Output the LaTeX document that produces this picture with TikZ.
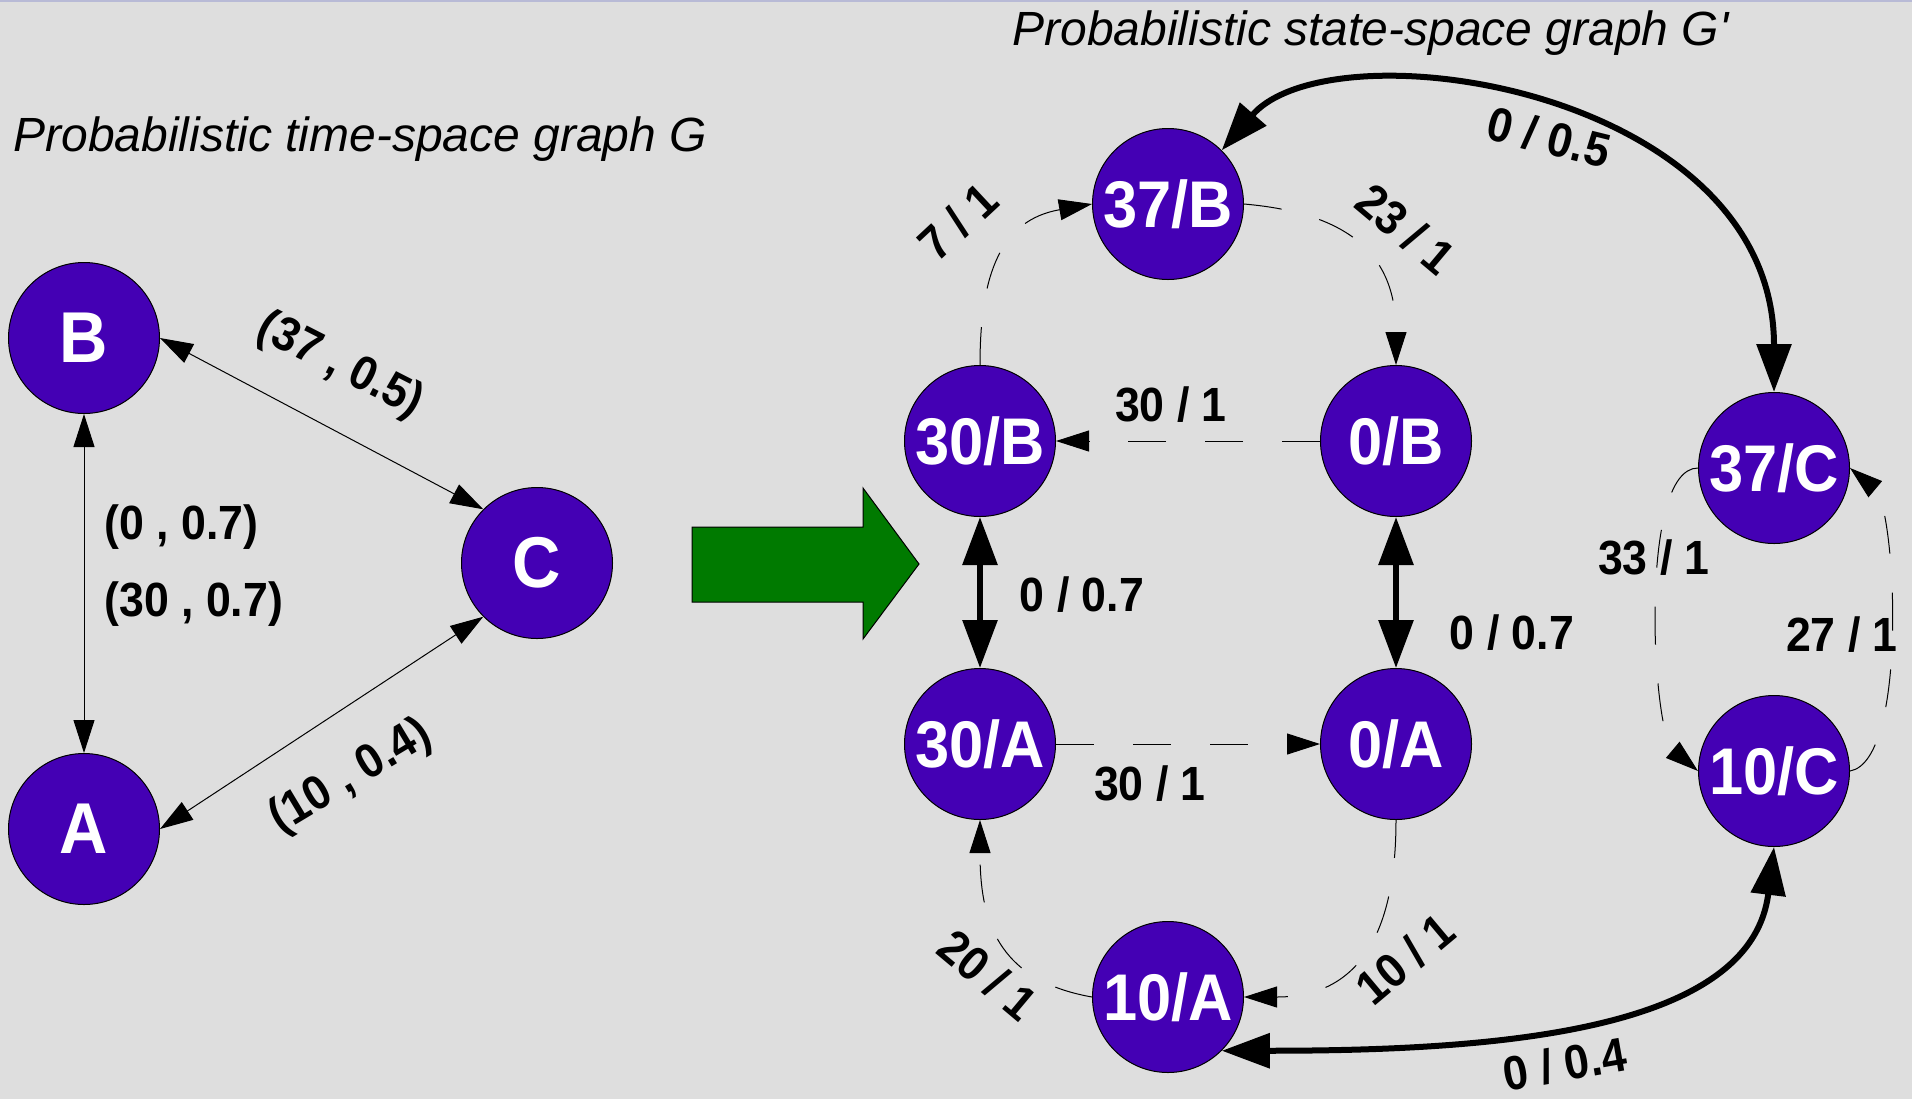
\documentclass[tikz,border=0pt]{standalone}
\usepackage{fontspec}
\setmainfont{Liberation Sans}
\newfontfamily\lblfont[FakeStretch=0.93]{Liberation Sans}
\usetikzlibrary{arrows.meta}
\definecolor{statefill}{RGB}{68,0,180}
\definecolor{arrowgreen}{RGB}{0,122,0}
\definecolor{paper}{RGB}{222,222,222}
\definecolor{topline}{RGB}{184,186,214}

\begin{document}
\begin{tikzpicture}[x=0.5pt, y=-0.5pt,
    every node/.style={inner sep=0pt},
    city/.style={circle, draw, line width=0.5pt, fill=statefill, text=white, minimum size=75.5pt, font=\lblfont\bfseries\fontsize{36}{40}\selectfont},
    stnode/.style={city, font=\lblfont\bfseries\fontsize{33}{38}\selectfont},
    elabel/.style={font=\lblfont\bfseries\fontsize{24}{28}\selectfont},
    gtitle/.style={anchor=base west, font=\itshape\fontsize{24}{28}\selectfont},
    thinlink/.style={line width=0.5pt, >={Triangle[length=16.5pt, width=10.5pt]}},
    dashlink/.style={thinlink, dash pattern=on 19pt off 19.5pt},
    heavylink/.style={line width=3pt, >={Triangle[length=24pt, width=17pt]}}]

    % Tlo
    \useasboundingbox (0,0) rectangle (1912,1099);
    \fill[paper] (0,0) rectangle (1912,1099);
    \fill[topline] (0,0) rectangle (1912,2);

    % Graf G
    \node[gtitle] (tg) at (13,151) {Probabilistic time-space graph G};
    \node[city] (b) at (84,338) {B};
    \node[city] (a) at (84,829) {A};
    \node[city] (c) at (537,563) {C};

    \draw[thinlink, <->] (b.south) -- (a.north);
    \draw[thinlink, <->] (b.east) -- (c.north west);
    \draw[thinlink, <->] (a.east) -- (c.south west);

    \node[elabel, rotate=-27] (lbc) at (340,366) {(37 , 0.5)};
    \node[elabel, anchor=west] (lba1) at (104,527) {(0 , 0.7)};
    \node[elabel, anchor=west] (lba2) at (104,604) {(30 , 0.7)};
    \node[elabel, rotate=31] (lac) at (351,777) {(10 , 0.4)};

    % Strzalka
    \draw[fill=arrowgreen, line width=0.5pt] (692,527) -- (863,527) -- (863,488) -- (919,564)
        -- (863,639) -- (863,602) -- (692,602) -- cycle;

    % Graf G'
    \node[gtitle] (tgp) at (1012,45) {Probabilistic state-space graph G\textquotesingle};
    \node[stnode] (b37) at (1168,204) {37/B};
    \node[stnode] (b30) at (980,441) {30/B};
    \node[stnode] (b0) at (1396,441) {0/B};
    \node[stnode] (c37) at (1774,468) {37/C};
    \node[stnode] (a30) at (980,744) {30/A};
    \node[stnode] (a0) at (1396,744) {0/A};
    \node[stnode] (c10) at (1774,771) {10/C};
    \node[stnode] (a10) at (1168,997) {10/A};

    % Krawedzie przejazdu
    \draw[dashlink, ->] (b0) -- (b30);
    \draw[dashlink, ->] (a30) -- (a0);
    \draw[dashlink, ->] (b30.north) to[out=90, in=190, looseness=1.2] (b37.west);
    \draw[dashlink, ->] (b37.east) to[out=-5, in=90, looseness=1.25] (b0.north);
    \draw[dashlink, ->] (a0.south) to[out=-90, in=0, looseness=1.25] (a10.east);
    \draw[dashlink, ->] (a10.west) to[out=170, in=-90, looseness=1.2] (a30.south);
    \draw[dashlink, ->] (c37.west) to[out=180, in=140, out distance=30pt, in distance=30pt] (c10.west);
    \draw[dashlink, ->] (c10.east) to[out=10, in=-40, out distance=30pt, in distance=30pt] (c37.east);

    % Krawedzie probabilistyczne
    \draw[heavylink, <->] (b30) -- (a30);
    \draw[heavylink, <->] (b0) -- (a0);
    \draw[heavylink, <->] (b37.45) to[out=49, in=90, out distance=84pt, in distance=152pt] (c37.north);
    \draw[heavylink, <->] (a10.-45) to[out=0, in=-97, out distance=138pt, in distance=93pt] (c10.south);

    % Etykiety
    \node[elabel] (l1) at (1171,405) {30 / 1};
    \node[elabel] (l2) at (1150,784) {30 / 1};
    \node[elabel] (l3) at (1082,595) {0 / 0.7};
    \node[elabel] (l4) at (1512,633) {0 / 0.7};
    \node[elabel, rotate=43] (l5) at (958,222) {7 / 1};
    \node[elabel, rotate=-40] (l6) at (1406,229) {23 / 1};
    \node[elabel, rotate=40] (l7) at (1405,959) {10 / 1};
    \node[elabel, rotate=-40] (l8) at (988,975) {20 / 1};
    \node[elabel] (l9) at (1654,558) {33 / 1};
    \node[elabel] (l10) at (1842,635) {27 / 1};
    \node[elabel, rotate=-14] (l11) at (1549,137) {0 / 0.5};
    \node[elabel, rotate=10] (l12) at (1565,1064) {0 / 0.4};
\end{tikzpicture}
\end{document}
